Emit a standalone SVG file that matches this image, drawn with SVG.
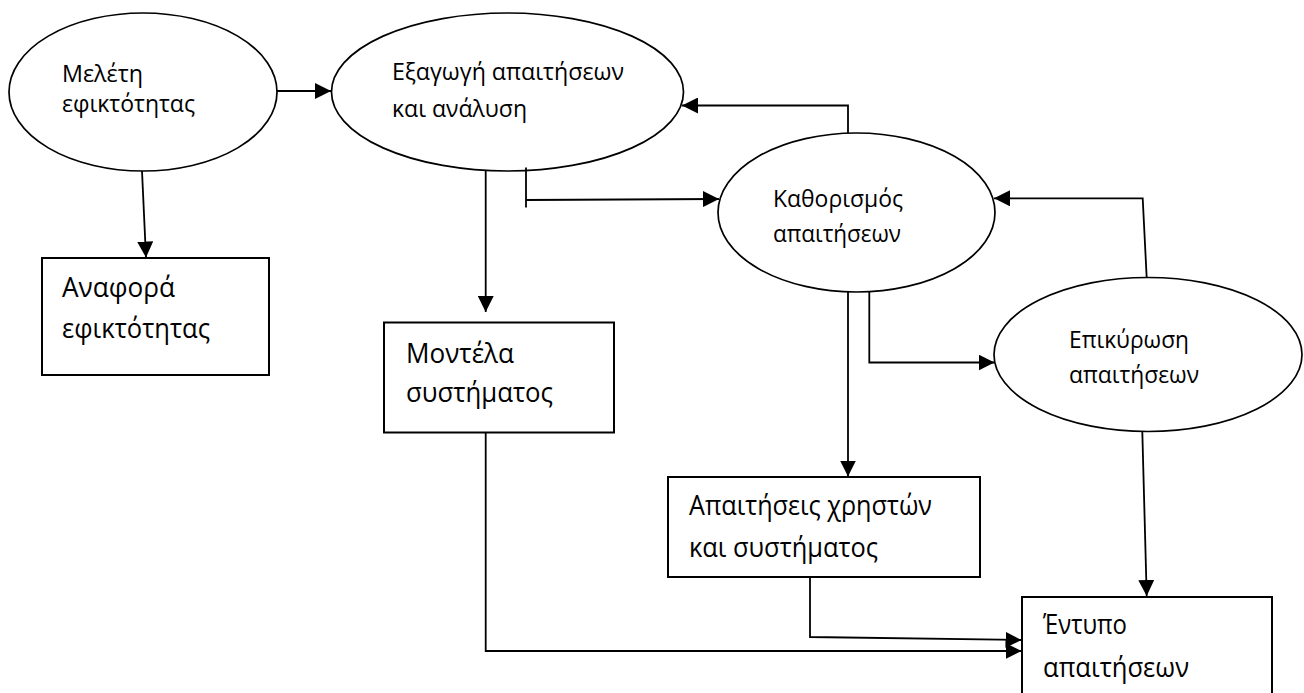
<svg xmlns="http://www.w3.org/2000/svg" width="1304" height="693" viewBox="0 0 1304 693">
  <defs>
    <marker id="arrow" viewBox="0 0 16 16" markerWidth="16" markerHeight="16" refX="16" refY="8" orient="auto" markerUnits="userSpaceOnUse">
      <path d="M0,0 L16,8 L0,16 z" fill="#000"/>
    </marker>
    <style>
      .proc { fill: #fff; stroke: #000; stroke-width: 1.7; }
      .doc { fill: #fff; stroke: #000; stroke-width: 2; }
      .link { fill: none; stroke: #000; stroke-width: 1.8; }
      .link.arrowed { marker-end: url(#arrow); }
      .t { font-family: "Open Sans", "Noto Sans", "DejaVu Sans", sans-serif; fill: #000; }
      .ts { font-size: 24px; }
      .tl { font-size: 28px; }
    </style>
  </defs>

  <rect width="1304" height="693" fill="#fff"/>

  <!-- processes (ellipses) -->
  <g id="feasibility-study">
    <ellipse class="proc" cx="143" cy="92" rx="134" ry="79"/>
    <text class="t ts" x="62" y="82" textLength="81" lengthAdjust="spacingAndGlyphs">Μελέτη</text>
    <text class="t ts" x="62" y="112" textLength="133" lengthAdjust="spacingAndGlyphs">εφικτότητας</text>
  </g>

  <g id="elicitation-analysis">
    <ellipse class="proc" cx="507.5" cy="92" rx="176" ry="79"/>
    <text class="t ts" x="392" y="80" textLength="232" lengthAdjust="spacingAndGlyphs">Εξαγωγή απαιτήσεων</text>
    <text class="t ts" x="392" y="117" textLength="135" lengthAdjust="spacingAndGlyphs">και ανάλυση</text>
  </g>

  <g id="specification">
    <ellipse class="proc" cx="856.5" cy="212.5" rx="138.5" ry="79.5"/>
    <text class="t ts" x="773" y="207" textLength="130" lengthAdjust="spacingAndGlyphs">Καθορισμός</text>
    <text class="t ts" x="773" y="242" textLength="128" lengthAdjust="spacingAndGlyphs">απαιτήσεων</text>
  </g>

  <g id="validation">
    <ellipse class="proc" cx="1148" cy="354.5" rx="154" ry="77"/>
    <text class="t ts" x="1069" y="348" textLength="120" lengthAdjust="spacingAndGlyphs">Επικύρωση</text>
    <text class="t ts" x="1069" y="383" textLength="130" lengthAdjust="spacingAndGlyphs">απαιτήσεων</text>
  </g>

  <!-- deliverables (rectangles) -->
  <g id="feasibility-report">
    <rect class="doc" x="42" y="258" width="227" height="117"/>
    <text class="t tl" x="62" y="297" textLength="113" lengthAdjust="spacingAndGlyphs">Αναφορά</text>
    <text class="t tl" x="62" y="338" textLength="148" lengthAdjust="spacingAndGlyphs">εφικτότητας</text>
  </g>

  <g id="system-models">
    <rect class="doc" x="384" y="322.5" width="230" height="110"/>
    <text class="t tl" x="406" y="363" textLength="108" lengthAdjust="spacingAndGlyphs">Μοντέλα</text>
    <text class="t tl" x="406" y="402" textLength="147" lengthAdjust="spacingAndGlyphs">συστήματος</text>
  </g>

  <g id="user-system-requirements">
    <rect class="doc" x="668" y="477" width="312" height="100"/>
    <text class="t tl" x="689" y="515" textLength="243" lengthAdjust="spacingAndGlyphs">Απαιτήσεις χρηστών</text>
    <text class="t tl" x="689" y="557" textLength="189" lengthAdjust="spacingAndGlyphs">και συστήματος</text>
  </g>

  <g id="requirements-document">
    <rect class="doc" x="1022" y="597" width="250" height="110"/>
    <text class="t tl" x="1043" y="634" textLength="84" lengthAdjust="spacingAndGlyphs">Έντυπο</text>
    <text class="t tl" x="1043" y="677" textLength="146" lengthAdjust="spacingAndGlyphs">απαιτήσεων</text>
  </g>

  <!-- connectors -->
  <g id="connectors">
    <path class="link arrowed" d="M277,91 L331,91"/>
    <path class="link arrowed" d="M142,171 L146,257.5"/>
    <path class="link arrowed" d="M485.7,171 L485.7,312"/>
    <path class="link" d="M526,167.5 L526,207.5"/>
    <path class="link arrowed" d="M526,200 L719,199"/>
    <path class="link arrowed" d="M848,133 L848,105.5 L682,105.5"/>
    <path class="link arrowed" d="M848,292 L848,476.5"/>
    <path class="link arrowed" d="M869.3,292 L869.3,362.5 L994.5,362.5"/>
    <path class="link arrowed" d="M1146.7,278 L1142.7,198.3 L994,198.3"/>
    <path class="link arrowed" d="M1142.3,431.5 L1146.7,596"/>
    <path class="link arrowed" d="M485.7,432.5 L485.7,651 L1021.5,651"/>
    <path class="link arrowed" d="M810,577 L810,637 L1021.5,640"/>
  </g>
</svg>
